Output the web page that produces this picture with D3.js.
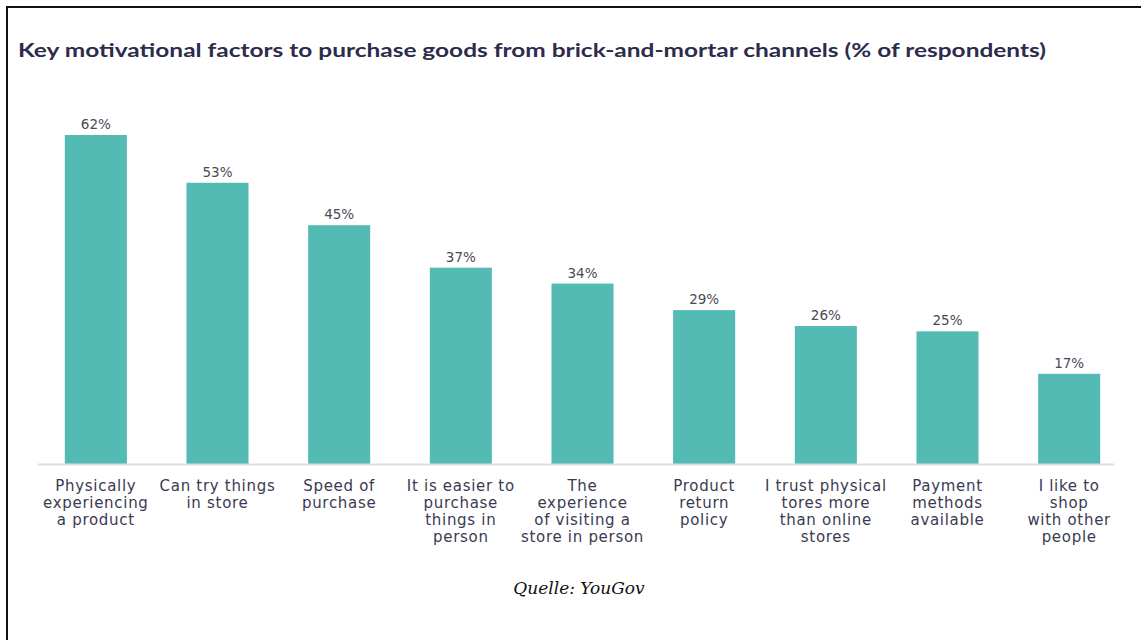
<!DOCTYPE html>
<html>
<head>
<meta charset="utf-8">
<script src="https://cdn.jsdelivr.net/npm/d3@7"></script>
<style>
  body { margin: 0; background: #fff; }
  svg { display: block; }
</style>
</head>
<body>
<svg id="chart"></svg>
<script>
// data
const categories = [
  ["Physically", "experiencing", "a product"],
  ["Can try things", "in store"],
  ["Speed of", "purchase"],
  ["It is easier to", "purchase", "things in", "person"],
  ["The", "experience", "of visiting a", "store in person"],
  ["Product", "return", "policy"],
  ["I trust physical", "tores more", "than online", "stores"],
  ["Payment", "methods", "available"],
  ["I like to", "shop", "with other", "people"]
];
const values = [62, 53, 45, 37, 34, 29, 26, 25, 17];
const titleText = "Key motivational factors to purchase goods from brick-and-mortar channels (% of respondents)";
const sourceText = "Quelle: YouGov";

const width = 1141;
const height = 640;
const baseY = 464;

const svg = d3.select('#chart')
    .attr('width', width)
    .attr('height', height);

// frame (top and left edge only, as in the screenshot)
svg.append('path')
    .attr('d', 'M7,640 V7 H1141')
    .attr('fill', 'none')
    .attr('stroke', '#111')
    .attr('stroke-width', 2);

// title
svg.append('text')
    .attr('x', 18)
    .attr('y', 57)
    .attr('font-family', 'Lato, sans-serif')
    .attr('font-weight', 'bold')
    .attr('font-size', 19)
    .attr('fill', '#2c2c4c')
    .attr('textLength', 1028)
    .attr('lengthAdjust', 'spacingAndGlyphs')
    .text(titleText);

const x = d3.scaleBand()
    .domain(d3.range(values.length))
    .range([35, 1130])
    .paddingInner(0.49)
    .paddingOuter(0.245);

const y = d3.scaleLinear()
    .domain([0, 62])
    .range([baseY, 135]);

// bars
svg.selectAll('rect.bar')
    .data(values)
    .enter()
    .append('rect')
    .attr('class', 'bar')
    .attr('x', (d, i) => x(i))
    .attr('y', d => y(d))
    .attr('width', x.bandwidth())
    .attr('height', d => baseY - y(d))
    .attr('fill', '#53bbb4');

// baseline
svg.append('line')
    .attr('x1', 38)
    .attr('x2', 1114)
    .attr('y1', baseY + 0.5)
    .attr('y2', baseY + 0.5)
    .attr('stroke', '#dcdcea')
    .attr('stroke-width', 2);

// value labels
svg.selectAll('text.val')
    .data(values)
    .enter()
    .append('text')
    .attr('class', 'val')
    .attr('x', (d, i) => x(i) + x.bandwidth() / 2)
    .attr('y', d => y(d) - 6)
    .attr('text-anchor', 'middle')
    .attr('font-family', 'DejaVu Sans, sans-serif')
    .attr('font-size', 13.5)
    .attr('fill', '#4a4a55')
    .text(d => d + '%');

// category labels
const cat = svg.selectAll('text.cat')
    .data(categories)
    .enter()
    .append('text')
    .attr('class', 'cat')
    .attr('text-anchor', 'middle')
    .attr('font-family', 'DejaVu Sans, sans-serif')
    .attr('font-size', 15)
    .attr('letter-spacing', 0.7)
    .attr('fill', '#3a3a52');

cat.selectAll('tspan')
    .data((d, i) => d.map(line => ({line: line, i: i})))
    .enter()
    .append('tspan')
    .attr('x', d => x(d.i) + x.bandwidth() / 2)
    .attr('y', (d, j) => 491 + j * 17)
    .text(d => d.line);

// source
svg.append('text')
    .attr('x', 579)
    .attr('y', 594)
    .attr('text-anchor', 'middle')
    .attr('font-family', 'DejaVu Serif, serif')
    .attr('font-style', 'italic')
    .attr('font-size', 17)
    .attr('fill', '#111')
    .text(sourceText);
</script>
</body>
</html>
